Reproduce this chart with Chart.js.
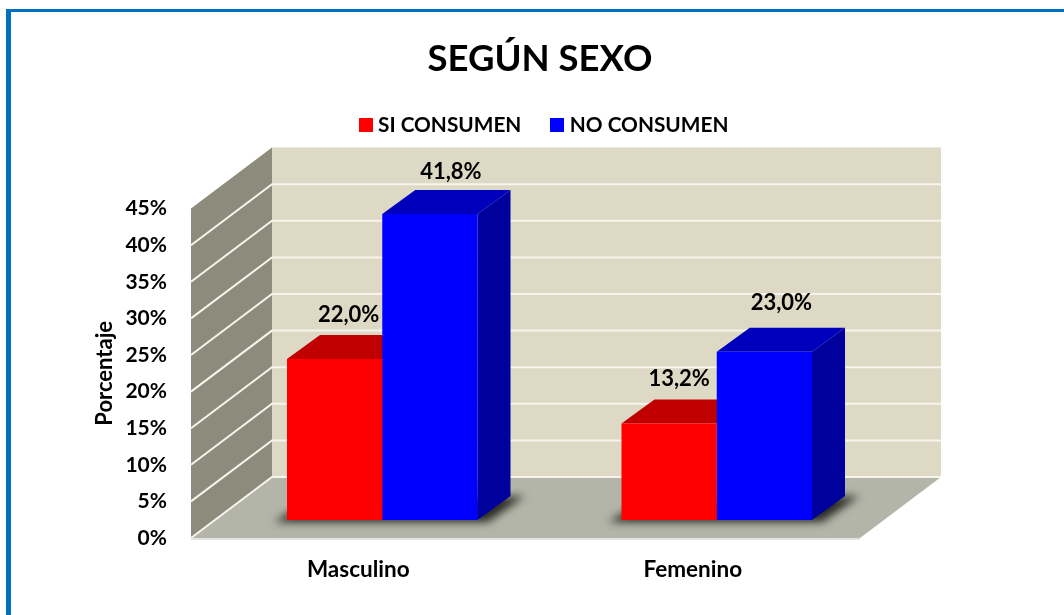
<!DOCTYPE html>
<html>
<head>
<meta charset="utf-8">
<script src="https://cdn.jsdelivr.net/npm/chart.js@4"></script>
<style>
html,body{margin:0;padding:0;background:#fff;overflow:hidden}
#wrap{position:relative;width:1064px;height:615px;overflow:hidden}
#frame{position:absolute;left:6px;top:9px;width:1100px;height:700px;border:solid #0070C0;border-width:3px 0 0 5px;box-sizing:border-box}
canvas{position:absolute;left:0;top:0}
</style>
</head>
<body>
<div id="wrap"><div id="frame"></div><canvas id="c" width="1064" height="615"></canvas></div>
<script>
const categories = ['Masculino', 'Femenino'];
const seriesNames = ['SI CONSUMEN', 'NO CONSUMEN'];
const siConsumen = [22.0, 13.2];
const noConsumen = [41.8, 23.0];
const yMax = 45;
const yStep = 5;

const FONT = 'Lato, Carlito, Calibri, sans-serif';
const WALL = {dx: 81, dy: -61};      // depth of the whole 3D box
const BAR_SHIFT = {dx: 24, dy: -18}; // where the bars stand on the floor
const BAR_DEPTH = {dx: 33, dy: -24};
const FRONT = ['#FF0000', '#0000FF'];
const TOPS = ['#C00000', '#0000BC'];
const SIDES = ['#A00000', '#00009C'];
const labelNudge = [[{x: 14, y: -44}, {x: 10, y: -44}], [{x: 21, y: -42}, {x: 17, y: -49}]];

function poly(ctx, pts, fill) {
  ctx.beginPath();
  pts.forEach((p, i) => i ? ctx.lineTo(p[0], p[1]) : ctx.moveTo(p[0], p[1]));
  ctx.closePath();
  ctx.fillStyle = fill;
  ctx.fill();
}
function legendSwatch(color) {
  const c = document.createElement('canvas');
  c.width = 14; c.height = 14;
  const g = c.getContext('2d');
  g.fillStyle = color;
  g.fillRect(0, 0, 14, 14);
  return c;
}

const box3d = {
  id: 'box3d',
  beforeInit(chart) {
    const fit = chart.legend.fit;
    chart.legend.fit = function () {
      fit.call(this);
      this.height += 63;
    };
  },
  afterLayout(chart) {
    chart.titleBlock.left = 0; chart.titleBlock.right = 1080;
    chart.legend.left = 0; chart.legend.right = 1092;
  },
  beforeDatasetsDraw(chart) {
    const {ctx, chartArea: a, scales: {y}} = chart;
    const L = a.left, R = a.right, T = a.top, B = a.bottom;
    const dx = WALL.dx, dy = WALL.dy;
    ctx.save();
    // walls and floor
    poly(ctx, [[L + dx, T + dy], [R + dx, T + dy], [R + dx, B + dy], [L + dx, B + dy]], '#DED9C4');
    poly(ctx, [[L, B], [L, T], [L + dx, T + dy], [L + dx, B + dy]], '#8D8B7B');
    poly(ctx, [[L, B], [L + dx, B + dy], [R + dx, B + dy], [R, B]], '#B2B5A7');
    ctx.fillStyle = '#E4E4DF';
    ctx.fillRect(L, B, R - L, 2);
    // grid lines
    ctx.strokeStyle = '#F6F4EC';
    ctx.lineWidth = 2;
    y.ticks.forEach(t => {
      if (t.value === yMax) return;
      const py = y.getPixelForValue(t.value);
      ctx.beginPath();
      ctx.moveTo(L, py);
      ctx.lineTo(L + dx, py + dy);
      ctx.lineTo(R + dx, py + dy);
      ctx.stroke();
    });
    // bars: shadow, then depth faces
    const bars0 = chart.getDatasetMeta(0).data;
    const bars1 = chart.getDatasetMeta(1).data;
    bars0.forEach((b0, i) => {
      const b1 = bars1[i];
      const x0 = b0.x - b0.width / 2 + BAR_SHIFT.dx;
      const x1 = b1.x + b1.width / 2 + BAR_SHIFT.dx;
      const yb = b0.base + BAR_SHIFT.dy;
      ctx.save();
      ctx.filter = 'blur(4px)';
      poly(ctx, [[x0 - 13, yb + 2], [x0 + 15, yb - 15], [x1 + BAR_DEPTH.dx + 14, yb + BAR_DEPTH.dy], [x1 + 10, yb + 2]], '#2A2A26');
      ctx.restore();
    });
    [0, 1].forEach(d => {
      chart.getDatasetMeta(d).data.forEach(b => {
        const x0 = b.x - b.width / 2 + BAR_SHIFT.dx;
        const x1 = b.x + b.width / 2 + BAR_SHIFT.dx;
        const yt = b.y + BAR_SHIFT.dy;
        const yb = b.base + BAR_SHIFT.dy;
        const ddx = BAR_DEPTH.dx, ddy = BAR_DEPTH.dy;
        poly(ctx, [[x1, yb], [x1, yt], [x1 + ddx, yt + ddy], [x1 + ddx, yb + ddy]], SIDES[d]);
        poly(ctx, [[x0, yt], [x0 + ddx, yt + ddy], [x1 + ddx, yt + ddy], [x1, yt]], TOPS[d]);
      });
    });
    ctx.restore();
  },
  beforeDatasetDraw(chart) {
    chart.ctx.save();
    chart.ctx.translate(BAR_SHIFT.dx, BAR_SHIFT.dy);
  },
  afterDatasetDraw(chart) {
    chart.ctx.restore();
  },
  afterDatasetsDraw(chart) {
    const {ctx} = chart;
    ctx.save();
    ctx.font = 'bold 22px ' + FONT;
    ctx.fillStyle = '#000';
    ctx.textAlign = 'center';
    ctx.textBaseline = 'middle';
    chart.data.datasets.forEach((ds, d) => {
      chart.getDatasetMeta(d).data.forEach((b, i) => {
        const txt = ds.data[i].toFixed(1).replace('.', ',') + '%';
        const n = labelNudge[d][i];
        ctx.fillText(txt, b.x + BAR_SHIFT.dx + n.x, b.y + BAR_SHIFT.dy + n.y);
      });
    });
    ctx.restore();
  }
};

new Chart(document.getElementById('c'), {
  type: 'bar',
  data: {
    labels: categories,
    datasets: [
      {label: seriesNames[0], data: siConsumen, backgroundColor: FRONT[0], borderWidth: 0, clip: false},
      {label: seriesNames[1], data: noConsumen, backgroundColor: FRONT[1], borderWidth: 0, clip: false}
    ]
  },
  plugins: [box3d],
  options: {
    responsive: false,
    animation: false,
    events: [],
    barPercentage: 1,
    categoryPercentage: 0.5695,
    layout: {padding: {left: 0, right: 204, top: 0, bottom: 0}},
    plugins: {
      tooltip: {enabled: false},
      title: {
        display: true,
        text: 'SEGÚN SEXO',
        color: '#000',
        font: {family: FONT, size: 36.5, weight: 'bold', lineHeight: 1.2},
        padding: {top: 37, bottom: 0}
      },
      legend: {
        position: 'top',
        padding: 3,
        labels: {
          color: '#000',
          font: {family: FONT, size: 20.8, weight: 'bold'},
          usePointStyle: true,
          pointStyleWidth: 4,
          padding: 34,
          generateLabels(chart) {
            return Chart.defaults.plugins.legend.labels.generateLabels(chart).map((it, i) => {
              it.pointStyle = legendSwatch(FRONT[i]);
              return it;
            });
          }
        }
      }
    },
    scales: {
      x: {
        grid: {display: false},
        border: {display: false},
        ticks: {color: '#000', padding: 10, maxRotation: 0, autoSkip: false, font: {family: FONT, size: 22.5, weight: 'bold'}},
        afterFit(s) { s.height = 77; }
      },
      y: {
        min: 0,
        max: yMax,
        grid: {display: false, drawTicks: false},
        border: {display: false},
        ticks: {
          stepSize: yStep,
          color: '#000',
          padding: 24,
          font: {family: FONT, size: 21, weight: 'bold'},
          callback: v => v + '%'
        },
        title: {
          display: true,
          text: 'Porcentaje',
          color: '#000',
          font: {family: FONT, size: 22, weight: 'bold'},
          padding: {top: 92, bottom: 0}
        },
        afterFit(s) { s.width = 191; }
      }
    }
  }
});
</script>
</body>
</html>
